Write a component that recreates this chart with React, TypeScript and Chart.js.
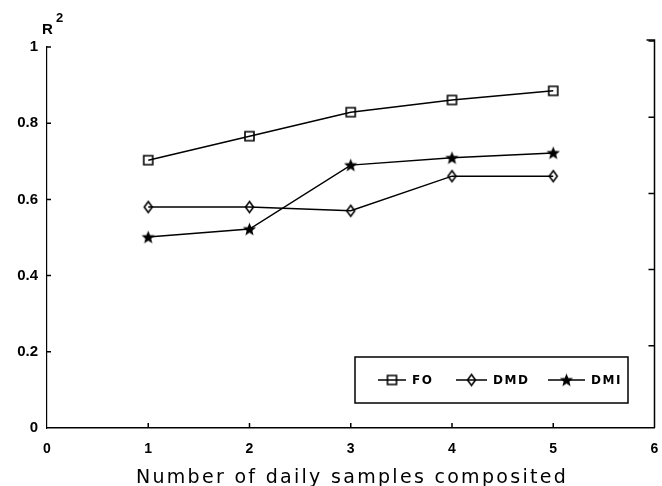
import React, { useEffect, useRef } from "react";
import { Chart, registerables } from "chart.js";

Chart.register(...registerables);

const categories = [1, 2, 3, 4, 5];
const foValues = [0.703, 0.766, 0.829, 0.861, 0.885];
const dmdValues = [0.58, 0.58, 0.57, 0.661, 0.661];
const dmiValues = [0.501, 0.522, 0.69, 0.709, 0.722];
const seriesLabels = ["FO", "DMD", "DMI"];
const xTicks = [0, 1, 2, 3, 4, 5, 6];
const yTicks = [0, 0.2, 0.4, 0.6, 0.8, 1];
const yTickLabels = ["0", "0.2", "0.4", "0.6", "0.8", "1"];
const xTitle = "Number of daily samples composited";

function makeMarker(kind: string): HTMLCanvasElement {
  const c = document.createElement("canvas");
  const s = 15;
  c.width = s;
  c.height = s;
  const g = c.getContext("2d")!;
  g.strokeStyle = "#000";
  g.fillStyle = "#000";
  g.lineWidth = 1.6;
  const m = s / 2;
  if (kind === "square") {
    g.beginPath();
    g.rect(m - 4.5, m - 4.5, 9, 9);
    g.stroke();
  } else if (kind === "diamond") {
    g.beginPath();
    g.moveTo(m, m - 5.5);
    g.lineTo(m + 4, m);
    g.lineTo(m, m + 5.5);
    g.lineTo(m - 4, m);
    g.closePath();
    g.stroke();
  } else {
    g.beginPath();
    for (let i = 0; i < 10; i++) {
      const r = i % 2 === 0 ? 7 : 3;
      const a = -Math.PI / 2 + (i * Math.PI) / 5;
      const px = m + r * Math.cos(a);
      const py = m + 0.5 + r * Math.sin(a);
      if (i === 0) g.moveTo(px, py);
      else g.lineTo(px, py);
    }
    g.closePath();
    g.fill();
  }
  return c;
}

export default function App() {
  const ref = useRef<HTMLCanvasElement>(null);
  useEffect(() => {
    document.body.style.margin = "0";
    const markers = [makeMarker("square"), makeMarker("diamond"), makeMarker("star")];
    const values = [foValues, dmdValues, dmiValues];

    const decor = {
      id: "decor",
      afterDraw(chart: any) {
        const { ctx, chartArea } = chart;
        const { left, right, top, bottom } = chartArea;
        const x = chart.scales.x;
        const y = chart.scales.y;
        ctx.save();
        ctx.strokeStyle = "#000";
        ctx.fillStyle = "#000";
        ctx.lineWidth = 1.5;
        // right axis
        ctx.beginPath();
        ctx.moveTo(right - 8, top - 7);
        ctx.lineTo(right, top - 7);
        ctx.lineTo(right, bottom);
        ctx.stroke();
        // inner ticks
        ctx.beginPath();
        for (const v of yTicks) {
          const py = y.getPixelForValue(v);
          if (v > 0) {
            ctx.moveTo(left, py);
            ctx.lineTo(left + 4, py);
            ctx.moveTo(right - 6, py - 6);
            ctx.lineTo(right, py - 6);
          }
        }
        for (const v of categories) {
          const px = x.getPixelForValue(v);
          ctx.moveTo(px, bottom);
          ctx.lineTo(px, bottom - 5);
        }
        ctx.stroke();
        // R^2
        ctx.textBaseline = "middle";
        ctx.textAlign = "left";
        ctx.font = 'bold 15px "Liberation Sans"';
        ctx.fillText("R", left - 5, top - 17);
        ctx.font = 'bold 13px "Liberation Sans"';
        ctx.fillText("2", left + 9, top - 29);
        // x title
        ctx.font = '19px "DejaVu Sans"';
        (ctx as any).letterSpacing = "2.3px";
        ctx.textAlign = "center";
        ctx.fillText(xTitle, 352, 478);
        (ctx as any).letterSpacing = "0px";
        // legend
        const bx = 355, by = 357, bw = 273, bh = 46;
        ctx.lineWidth = 1.5;
        ctx.strokeRect(bx, by, bw, bh);
        const itemX = [378, 456, 548];
        const lineW = [28, 31, 37];
        const cy = by + bh / 2;
        ctx.font = 'bold 12px "DejaVu Sans"';
        (ctx as any).letterSpacing = "1.5px";
        ctx.textAlign = "left";
        for (let i = 0; i < 3; i++) {
          ctx.beginPath();
          ctx.moveTo(itemX[i], cy);
          ctx.lineTo(itemX[i] + lineW[i], cy);
          ctx.stroke();
          const mk = markers[i];
          ctx.drawImage(mk, itemX[i] + lineW[i] / 2 - mk.width / 2, cy - mk.height / 2);
          ctx.fillText(seriesLabels[i], itemX[i] + lineW[i] + 6, cy + 1);
        }
        (ctx as any).letterSpacing = "0px";
        ctx.restore();
      },
    };

    const chart = new Chart(ref.current!, {
      type: "line",
      data: {
        datasets: values.map((vals, i) => ({
          label: seriesLabels[i],
          data: categories.map((c, j) => ({ x: c, y: vals[j] })),
          borderColor: "#000",
          backgroundColor: "#000",
          borderWidth: 1.5,
          pointStyle: markers[i] as any,
          pointRadius: 6,
          tension: 0,
        })),
      },
      options: {
        animation: false,
        responsive: false,
        layout: { padding: { top: 47, right: 3, left: 0, bottom: 0 } },
        plugins: { legend: { display: false }, tooltip: { enabled: false } },
        scales: {
          x: {
            type: "linear",
            min: 0,
            max: 6,
            afterBuildTicks: (s: any) => {
              s.ticks = xTicks.map((v) => ({ value: v }));
            },
            afterFit: (s: any) => {
              s.height = 58;
              s.paddingRight = 0;
            },
            grid: { display: false, drawTicks: false },
            border: { display: true, color: "#000", width: 1.5 },
            ticks: {
              color: "#000",
              padding: 13,
              font: { family: "Liberation Sans", size: 14, weight: "bold" },
            },
          },
          y: {
            type: "linear",
            min: 0,
            max: 1,
            afterBuildTicks: (s: any) => {
              s.ticks = yTicks.map((v) => ({ value: v }));
            },
            afterFit: (s: any) => {
              s.width = 47;
            },
            grid: { display: false, drawTicks: false },
            border: { display: true, color: "#000", width: 1.2, dash: [10, 3] },
            ticks: {
              color: "#000",
              padding: 9,
              font: { family: "Liberation Sans", size: 15, weight: "bold" },
              callback: (v: any) => {
                const i = yTicks.findIndex((t) => Math.abs(t - Number(v)) < 1e-9);
                return i >= 0 ? yTickLabels[i] : "";
              },
            },
          },
        },
      },
      plugins: [decor],
    });
    return () => chart.destroy();
  }, []);
  return (
    <div style={{ width: 662, height: 486, background: "#fff" }}>
      <canvas ref={ref} width={662} height={486} style={{ display: "block" }} />
    </div>
  );
}
